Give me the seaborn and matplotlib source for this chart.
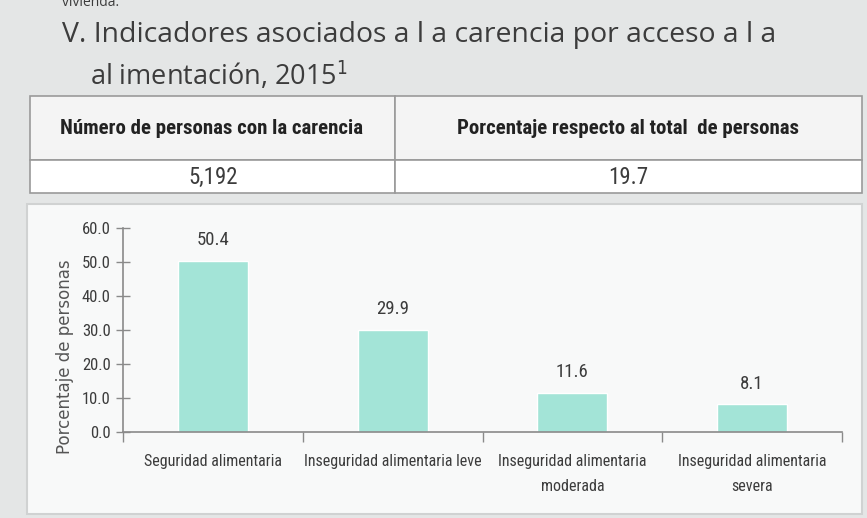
import numpy as np
import pandas as pd
import matplotlib.pyplot as plt
import matplotlib.patches as mpatches
import seaborn as sns

# data
categorias = ['Seguridad alimentaria', 'Inseguridad alimentaria leve',
              'Inseguridad alimentaria\nmoderada', 'Inseguridad alimentaria\nsevera']
porcentajes = [50.4, 29.9, 11.6, 8.1]
tabla_encabezados = ['Número de personas con la carencia', 'Porcentaje respecto al total  de personas']
tabla_valores = ['5,192', '19.7']

sns.set_style('white')
plt.rcParams['font.family'] = ['Roboto Condensed', 'Liberation Sans Narrow', 'DejaVu Sans']
plt.rcParams['font.stretch'] = 'condensed'

W, H = 867, 518
fig = plt.figure(figsize=(W / 100, H / 100), dpi=100)
fig.patch.set_facecolor('#e4e6e6')

def px(x, y):
    return x / W, 1 - y / H

txt = '#3c3c3c'

# clipped text at top
fig.text(*px(62, 3), 'vivienda.', fontsize=10, color=txt, va='center',
         family='Open Sans', fontstretch='normal')

# title
fig.text(*px(62, 35), 'V. Indicadores asociados a l a carencia por acceso a l a',
         fontsize=20.4, color=txt, va='center', family='Open Sans', fontstretch='normal')
fig.text(*px(90, 76), 'al imentación, 2015$^{1}$',
         fontsize=19.5, color=txt, va='center', family='Open Sans', fontstretch='normal')

# table
def rect(x0, y0, x1, y1, fc, ec='#9a9a9a', lw=1.2):
    fig.patches.append(mpatches.Rectangle(px(x0, y1), (x1 - x0) / W, (y1 - y0) / H,
                                          transform=fig.transFigure, facecolor=fc,
                                          edgecolor=ec, linewidth=lw, zorder=-5))

rect(30, 96, 395, 160, '#f4f4f4')
rect(395, 96, 862, 160, '#f4f4f4')
rect(30, 160, 395, 193, 'white')
rect(395, 160, 862, 193, 'white')
fig.text(*px(212, 128), tabla_encabezados[0], fontsize=15, fontweight='bold',
         color='#222222', ha='center', va='center')
fig.text(*px(628, 128), tabla_encabezados[1], fontsize=15, fontweight='bold',
         color='#222222', ha='center', va='center')
fig.text(*px(213, 177), tabla_valores[0], fontsize=16.5, color=txt, ha='center', va='center')
fig.text(*px(628, 177), tabla_valores[1], fontsize=16.5, color=txt, ha='center', va='center')

# chart panel
rect(27, 204, 862, 514, '#f8f9f9', ec='#d0d2d2', lw=1.5)

ax = fig.add_axes([123 / W, 1 - 432 / H, (842 - 123) / W, (432 - 228) / H])
ax.set_zorder(5)
ax.set_facecolor('none')
df = pd.DataFrame({'cat': categorias, 'pct': porcentajes})
sns.barplot(data=df, x='cat', y='pct', color='#a3e4d7', saturation=1, width=0.39, ax=ax)

ax.set_xlim(-0.5, 3.5)
ax.set_ylim(0, 60)
ax.set_yticks(np.arange(0, 61, 10))
ax.set_yticklabels([f'{v:.1f}' for v in np.arange(0, 61, 10)], fontsize=12, color=txt)
ax.tick_params(axis='y', direction='inout', length=10, width=1, color='#8a8a8a', pad=4, left=True)
ax.tick_params(axis='x', length=0, pad=16, labelsize=11.5, labelcolor=txt)
for lab in ax.get_xticklabels():
    lab.set_linespacing(1.85)
ax.set_xticks(np.arange(-0.5, 3.6, 1), minor=True)
ax.tick_params(axis='x', which='minor', direction='out', length=7, width=1, color='#8a8a8a', bottom=True)
for s in ['top', 'right']:
    ax.spines[s].set_visible(False)
for s in ['left', 'bottom']:
    ax.spines[s].set_color('#8a8a8a')
    ax.spines[s].set_linewidth(1.2)

ax.set_xlabel('')
ax.set_ylabel('Porcentaje de personas', fontsize=12, color='#555555', family='DejaVu Sans',
              fontstretch='normal')
ax.yaxis.set_label_coords(-0.068, 0.37)

for i, v in enumerate(porcentajes):
    ax.text(i, v + 3.5, f'{v:.1f}', ha='center', va='bottom', fontsize=13.5, color=txt)

fig.savefig('out.png', dpi=100, facecolor=fig.get_facecolor())
